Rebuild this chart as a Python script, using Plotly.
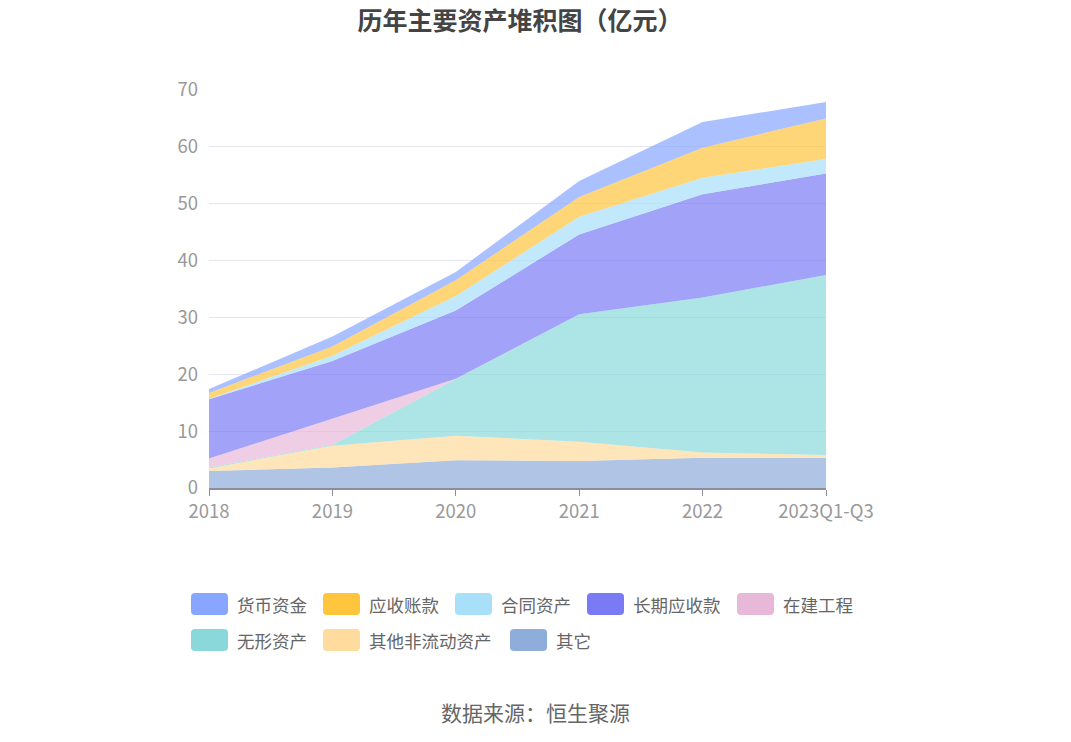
import plotly.graph_objects as go

# 历年主要资产 (亿元)
years = ["2018", "2019", "2020", "2021", "2022", "2023Q1-Q3"]

qita = [3.0, 3.6, 4.9, 4.75, 5.3, 5.3]              # 其它
qita_fldzc = [0.45, 3.85, 4.3, 3.4, 0.95, 0.5]     # 其他非流动资产
wxzc = [0.15, 0.15, 9.95, 22.4, 27.25, 31.65]      # 无形资产
zjgc = [1.6, 4.65, 0.05, 0.0, 0.0, 0.0]            # 在建工程
cqysk = [10.4, 10.1, 12.0, 14.05, 18.15, 17.85]    # 长期应收款
htzc = [0.1, 0.9, 2.55, 3.1, 2.9, 2.55]            # 合同资产
yszk = [1.0, 1.65, 2.8, 3.5, 5.3, 7.15]            # 应收账款
hbzj = [0.7, 1.75, 1.45, 2.8, 4.5, 2.9]            # 货币资金

colors = {
    "货币资金": "136,166,255",
    "应收账款": "255,197,61",
    "合同资产": "168,224,250",
    "长期应收款": "122,122,245",
    "在建工程": "232,184,216",
    "无形资产": "138,216,218",
    "其他非流动资产": "255,219,157",
    "其它": "143,173,219",
}

# bottom of the stack first
series = [
    ("其它", qita),
    ("其他非流动资产", qita_fldzc),
    ("无形资产", wxzc),
    ("在建工程", zjgc),
    ("长期应收款", cqysk),
    ("合同资产", htzc),
    ("应收账款", yszk),
    ("货币资金", hbzj),
]

W, H = 1055, 726
L, R, T, B = 201, 237, 82, 246
PW, PH = W - L - R, H - T - B


def px(x):
    return (x - L) / PW


def py(y):
    return (H - B - y) / PH


fig = go.Figure()
for name, vals in series:
    rgb = colors[name]
    fig.add_trace(go.Scatter(
        x=years, y=vals, name=name,
        mode="lines", stackgroup="assets",
        line=dict(width=0, color=f"rgb({rgb})"),
        fillcolor=f"rgba({rgb},0.7)",
        hovertemplate="%{x}<br>" + name + ": %{y:.2f}亿元<extra></extra>",
    ))

fig.update_layout(
    width=W, height=H,
    margin=dict(l=L, r=R, t=T, b=B),
    paper_bgcolor="white", plot_bgcolor="white",
    font=dict(family="Noto Sans CJK SC", color="#666"),
    title=dict(text="<b>历年主要资产堆积图（亿元）</b>", x=512 / W, xanchor="center",
               yref="container", y=1 - 13 / H, yanchor="middle",
               font=dict(size=25, color="#444", family="Noto Sans CJK SC")),
    xaxis=dict(
        range=[0, 5], showgrid=False, showline=True, linecolor="#8a8f99", linewidth=1.5,
        ticks="outside", ticklen=6, tickcolor="#8a8f99",
        tickfont=dict(size=18.5, color="#999"),
    ),
    yaxis=dict(
        range=[0, 70], dtick=10, showgrid=True, gridcolor="#e3e5f0", zeroline=False,
        showline=False, tickfont=dict(size=18.5, color="#999"), ticks="", ticklabelstandoff=10,
    ),
    showlegend=False,
)

# legend drawn as rounded swatches + labels, two rows like the original
legend_rows = [
    (["货币资金", "应收账款", "合同资产", "长期应收款", "在建工程"], [183, 315, 447, 579, 729], 596),
    (["无形资产", "其他非流动资产", "其它"], [183, 315, 502], 632),
]
sw, sh, r = 37, 22, 4
for names, lefts, cy in legend_rows:
    for name, x0 in zip(names, lefts):
        x1 = x0 + sw
        y0, y1 = cy - sh / 2, cy + sh / 2
        path = (
            f"M {px(x0 + r)} {py(y0)} L {px(x1 - r)} {py(y0)} "
            f"Q {px(x1)} {py(y0)} {px(x1)} {py(y0 + r)} L {px(x1)} {py(y1 - r)} "
            f"Q {px(x1)} {py(y1)} {px(x1 - r)} {py(y1)} L {px(x0 + r)} {py(y1)} "
            f"Q {px(x0)} {py(y1)} {px(x0)} {py(y1 - r)} L {px(x0)} {py(y0 + r)} "
            f"Q {px(x0)} {py(y0)} {px(x0 + r)} {py(y0)} Z"
        )
        fig.add_shape(type="path", path=path, xref="paper", yref="paper",
                      fillcolor=f"rgb({colors[name]})", line=dict(width=0))
        fig.add_annotation(
            text=name, xref="paper", yref="paper", x=px(x0 + 44), y=py(cy),
            xanchor="left", yanchor="middle", showarrow=False,
            font=dict(size=17.5, color="#666"),
        )

fig.add_annotation(
    text="数据来源：恒生聚源", xref="paper", yref="paper",
    x=px(527), y=py(704), xanchor="center", yanchor="middle", showarrow=False,
    font=dict(size=21, color="#666"),
)

fig.write_html("out.html")
